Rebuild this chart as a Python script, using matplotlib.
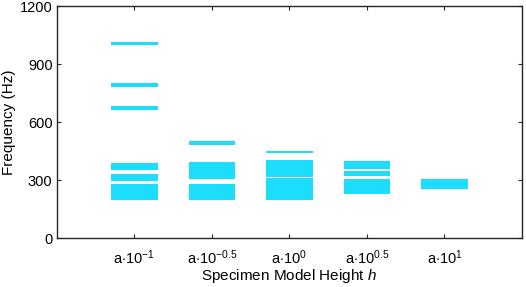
import matplotlib
matplotlib.use("Agg")
import matplotlib.pyplot as plt
import numpy as np

plt.rcParams['font.family'] = ['Liberation Sans', 'DejaVu Sans']
plt.rcParams['mathtext.fontset'] = 'custom'
plt.rcParams['mathtext.rm'] = 'Liberation Sans'
plt.rcParams['mathtext.it'] = 'Liberation Sans:italic'

# Data: frequency bands (Hz) per specimen height
group_pos = [1, 2, 3, 4, 5]
tick_labels = [r'a$\cdot$10$^{\mathregular{-1}}$', r'a$\cdot$10$^{\mathregular{-0.5}}$',
               r'a$\cdot$10$^{\mathregular{0}}$', r'a$\cdot$10$^{\mathregular{0.5}}$',
               r'a$\cdot$10$^{\mathregular{1}}$']
band_low = [[196, 295, 353, 664, 784, 999],
            [196, 305, 482],
            [196, 319, 439],
            [229, 322, 357],
            [255]]
band_high = [[278, 331, 388, 682, 802, 1016],
             [278, 396, 501],
             [312, 407, 453],
             [307, 346, 397],
             [307]]

color = '#1CDDFC'

fig = plt.figure(figsize=(5.26, 2.87), dpi=100)
ax = fig.add_axes([0.1078, 0.1697, 0.8846, 0.8093])

for x, lows, highs in zip(group_pos, band_low, band_high):
    lows = np.array(lows)
    highs = np.array(highs)
    ax.bar([x] * len(lows), highs - lows, bottom=lows, width=0.6,
           color=color, edgecolor='none')

ax.set_xlim(0, 6)
ax.set_ylim(0, 1200)
ax.set_yticks([0, 300, 600, 900, 1200])
ax.set_xticks(group_pos)
ax.set_xticklabels(tick_labels)
ax.tick_params(direction='in', top=True, right=True, length=3, width=0.8,
               labelsize=10.5, colors='#262626', labelcolor='black')
ax.tick_params(axis='x', pad=7)
ax.tick_params(axis='y', pad=3)
for s in ax.spines.values():
    s.set_color('#262626')
    s.set_linewidth(1.0)

ax.set_xlabel(r'Specimen Model Height $h$', fontsize=11, labelpad=0)
ax.set_ylabel('Frequency (Hz)', fontsize=11, labelpad=3)

fig.savefig('out.png', dpi=100)
